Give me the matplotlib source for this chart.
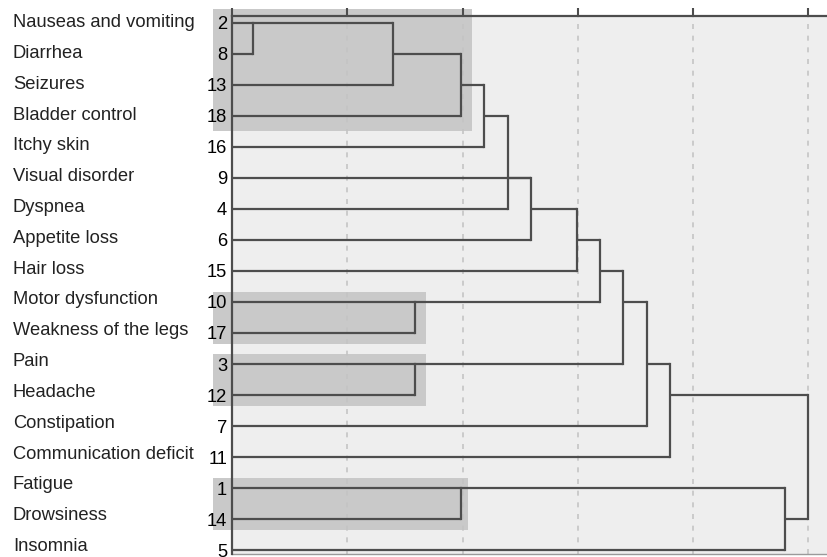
import matplotlib.pyplot as plt
import matplotlib.transforms as mtransforms
import matplotlib.patches as mpatches

plt.rcParams['font.family'] = ['Liberation Sans', 'DejaVu Sans']

# leaves from top to bottom
symptoms = ['Nauseas and vomiting', 'Diarrhea', 'Seizures', 'Bladder control', 'Itchy skin',
            'Visual disorder', 'Dyspnea', 'Appetite loss', 'Hair loss', 'Motor dysfunction',
            'Weakness of the legs', 'Pain', 'Headache', 'Constipation', 'Communication deficit',
            'Fatigue', 'Drowsiness', 'Insomnia']
leaf_ids = [2, 8, 13, 18, 16, 9, 4, 6, 15, 10, 17, 3, 12, 7, 11, 1, 14, 5]

# merges: (name, children, height, row where the merged branch continues)
# children are leaf ids (int) or earlier merge names (str)
merges = [
    ('a', [2, 8], 0.18, 0),
    ('b', ['a', 13], 1.40, 1),
    ('c', ['b', 18], 1.99, 2),
    ('d', ['c', 16], 2.19, 3),
    ('e', ['d', 4], 2.39, 5),
    ('f', ['e', 9, 6], 2.59, 6),
    ('g', ['f', 15], 2.99, 7),
    ('h', [10, 17], 1.59, 9),
    ('i', ['g', 'h'], 3.19, 8),
    ('j', [3, 12], 1.59, 11),
    ('k', ['i', 'j'], 3.39, 9),
    ('l', ['k', 7], 3.60, 11),
    ('m', ['l', 11], 3.80, 12),
    ('n', [1, 14], 1.99, 15),
    ('o', ['n', 5], 4.80, 16),
    ('root', ['m', 'o'], 5.00, None),
]

# shaded clusters: (first row, last row, right edge)
clusters = [(0, 3, 2.08), (9, 10, 1.68), (11, 12, 1.68), (15, 16, 2.05)]

line_col = '#4d4d4d'

fig = plt.figure(figsize=(8.28, 5.57), dpi=100)
ax = fig.add_axes([232 / 828, 1 - 554 / 557, 1 - 232 / 828, (554 - 16) / 557])
ax.set_facecolor('#eeeeee')

rows = list(range(len(leaf_ids)))
pos = {lid: (r, 0.0) for r, lid in enumerate(leaf_ids)}

for name, kids, h, out_row in merges:
    kid_rows = []
    for k in kids:
        r, x0 = pos[k]
        ax.plot([x0, h], [r, r], color=line_col, lw=1.6, solid_capstyle='butt', zorder=3)
        kid_rows.append(r)
    ax.plot([h, h], [min(kid_rows), max(kid_rows)], color=line_col, lw=1.6, zorder=3)
    if out_row is not None:
        pos[name] = (out_row, h)

for r0, r1, xr in clusters:
    top = r0 - 0.45 if r0 == 0 else r0 - 0.33
    bot = r1 + 0.5 if r0 == 0 else r1 + 0.36
    ax.add_patch(mpatches.Rectangle((-0.165, top), xr + 0.165, bot - top,
                                    facecolor='#c9c9c9', edgecolor='none',
                                    clip_on=False, zorder=1))

ax.set_xlim(0, 5.17)
ax.set_ylim(17.12, -0.21)
ax.set_xticks([0, 1, 2, 3, 4, 5])
ax.xaxis.tick_top()
ax.tick_params(axis='x', direction='out', length=6, width=1.5, color=line_col,
               labeltop=False, labelbottom=False)
for x in [1, 2, 3, 4, 5]:
    ax.axvline(x, color='#c4c4c4', lw=1.2, ls=(0, (3, 4)), zorder=2)

ax.set_yticks(rows)
ax.set_yticklabels([str(v) for v in leaf_ids], fontsize=13.2)
ax.tick_params(axis='y', length=0, pad=3.5)

trans = mtransforms.blended_transform_factory(fig.transFigure, ax.transData)
for r, s in enumerate(symptoms):
    ax.text(13 / 828, r * 0.993, s, transform=trans, fontsize=13.2,
            ha='left', va='center', color='#222222')

for sp in ['left', 'top']:
    ax.spines[sp].set_color(line_col)
    ax.spines[sp].set_linewidth(1.6)
    ax.spines[sp].set_zorder(4)
ax.spines['right'].set_visible(False)
ax.spines['bottom'].set_color('#9a9a9a')
ax.spines['bottom'].set_linewidth(1.0)

fig.savefig('out.png', dpi=100)
